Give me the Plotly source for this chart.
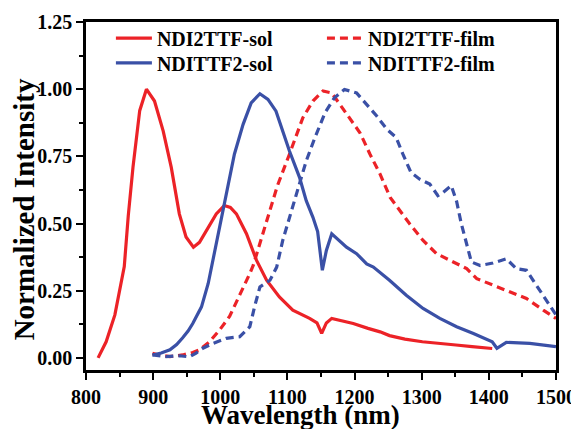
import plotly.graph_objects as go

# NDI2TTF-sol (red solid)
red_sol_x = [818, 830, 843, 857, 863, 870, 880, 890, 902, 915, 927, 939, 949, 960, 969, 979, 994, 1006, 1015, 1024, 1039, 1054, 1069, 1088, 1108, 1133, 1144, 1151, 1158, 1166, 1180, 1198, 1220, 1238, 1252, 1275, 1301, 1325, 1351, 1375, 1398, 1405]
red_sol_y = [0.0, 0.06, 0.16, 0.34, 0.53, 0.71, 0.92, 1.0, 0.956, 0.844, 0.709, 0.536, 0.45, 0.412, 0.43, 0.474, 0.536, 0.567, 0.56, 0.536, 0.462, 0.363, 0.289, 0.227, 0.178, 0.147, 0.13, 0.091, 0.13, 0.147, 0.14, 0.128, 0.11, 0.097, 0.083, 0.07, 0.06, 0.053, 0.048, 0.042, 0.036, 0.035]

# NDI2TTF-film (red dashed)
red_film_x = [899, 910, 925, 944, 959, 969, 984, 999, 1014, 1029, 1044, 1049, 1069, 1085, 1103, 1123, 1138, 1153, 1166, 1178, 1193, 1208, 1223, 1238, 1253, 1267, 1282, 1302, 1322, 1347, 1367, 1382, 1406, 1431, 1456, 1481, 1500]
red_film_y = [0.017, 0.01, 0.005, 0.011, 0.02, 0.03, 0.06, 0.104, 0.155, 0.233, 0.314, 0.344, 0.505, 0.64, 0.758, 0.894, 0.956, 0.993, 0.986, 0.943, 0.888, 0.838, 0.758, 0.684, 0.597, 0.548, 0.499, 0.437, 0.388, 0.357, 0.332, 0.295, 0.27, 0.246, 0.221, 0.178, 0.147]

# NDITTF2-sol (blue solid)
blue_sol_x = [899, 912, 925, 935, 944, 952, 959, 966, 972, 982, 989, 997, 1004, 1009, 1014, 1021, 1034, 1046, 1059, 1071, 1083, 1093, 1103, 1118, 1128, 1138, 1145, 1152, 1158, 1166, 1188, 1203, 1218, 1228, 1252, 1277, 1302, 1327, 1352, 1377, 1397, 1405, 1412, 1426, 1461, 1500]
blue_sol_y = [0.011, 0.018, 0.03, 0.05, 0.075, 0.1, 0.128, 0.16, 0.19, 0.277, 0.363, 0.462, 0.548, 0.6, 0.66, 0.758, 0.869, 0.949, 0.983, 0.962, 0.918, 0.844, 0.77, 0.672, 0.585, 0.523, 0.47, 0.326, 0.4, 0.462, 0.412, 0.388, 0.35, 0.338, 0.289, 0.233, 0.184, 0.147, 0.116, 0.091, 0.07, 0.06, 0.036, 0.058, 0.054, 0.042]

# NDITTF2-film (blue dashed)
blue_film_x = [899, 919, 939, 954, 964, 974, 989, 1009, 1029, 1044, 1051, 1059, 1074, 1084, 1093, 1103, 1118, 1128, 1141, 1156, 1170, 1185, 1203, 1218, 1233, 1248, 1262, 1272, 1284, 1297, 1312, 1324, 1332, 1344, 1352, 1359, 1367, 1374, 1387, 1406, 1426, 1441, 1456, 1469, 1484, 1500]
blue_film_y = [0.011, 0.005, 0.008, 0.004, 0.018, 0.036, 0.054, 0.073, 0.079, 0.116, 0.19, 0.264, 0.289, 0.338, 0.437, 0.52, 0.647, 0.733, 0.82, 0.912, 0.968, 0.999, 0.986, 0.945, 0.9, 0.851, 0.82, 0.758, 0.69, 0.665, 0.647, 0.604, 0.616, 0.641, 0.582, 0.499, 0.425, 0.357, 0.344, 0.353, 0.369, 0.332, 0.326, 0.277, 0.221, 0.16]

x_title = "Wavelength (nm)"
y_title = "Normalized Intensity"

RED = "#EC2227"
BLUE = "#3A50A6"
FONT = "Liberation Serif"

fig = go.Figure()
fig.add_trace(go.Scatter(x=red_sol_x, y=red_sol_y, mode="lines", name="NDI2TTF-sol",
                         line=dict(color=RED, width=3.2), legend="legend", showlegend=True))
fig.add_trace(go.Scatter(x=red_film_x, y=red_film_y, mode="lines", name="NDI2TTF-film",
                         line=dict(color=RED, width=3.2, dash="8px,5px"), legend="legend2", showlegend=True))
fig.add_trace(go.Scatter(x=blue_sol_x, y=blue_sol_y, mode="lines", name="NDITTF2-sol",
                         line=dict(color=BLUE, width=3.2), legend="legend3", showlegend=True))
fig.add_trace(go.Scatter(x=blue_film_x, y=blue_film_y, mode="lines", name="NDITTF2-film",
                         line=dict(color=BLUE, width=3.2, dash="8px,5px"), legend="legend4", showlegend=True))

axis_common = dict(
    showline=True, linewidth=2.5, linecolor="black", mirror=True,
    ticks="outside", ticklen=7, tickwidth=2, tickcolor="black",
    showgrid=False, zeroline=False, automargin=False,
    tickfont=dict(family=FONT, size=20, color="black", weight="bold"),
)

leg_font = dict(family=FONT, size=20, color="black", weight="bold")


def leg(x, y):
    return dict(x=x, y=y, xanchor="left", yanchor="middle", bgcolor="rgba(0,0,0,0)",
                font=leg_font, itemwidth=36)


# page body has an 8px default margin, so the figure is sized 8px smaller
fig.update_layout(
    width=571, height=421,
    margin=dict(l=78, r=23, t=13, b=59),
    showlegend=True,
    plot_bgcolor="white", paper_bgcolor="white",
    font=dict(family=FONT, color="black", weight="bold"),
    xaxis=dict(range=[800, 1500], dtick=100, tick0=800,
               minor=dict(dtick=50, ticks="outside", ticklen=4, tickwidth=2, tickcolor="black"),
               **axis_common),
    yaxis=dict(range=[-0.045, 1.25], dtick=0.25, tick0=0, tickformat=".2f",
               minor=dict(dtick=0.125, ticks="outside", ticklen=4, tickwidth=2, tickcolor="black"),
               **axis_common),
    legend=leg(0.053, 0.951),
    legend2=leg(0.502, 0.951),
    legend3=leg(0.053, 0.880),
    legend4=leg(0.502, 0.880),
    annotations=[
        dict(text=x_title, xref="paper", yref="paper", x=0.457, y=-0.13,
             xanchor="center", yanchor="middle", showarrow=False,
             font=dict(family=FONT, size=27, color="black", weight="bold")),
        dict(text=y_title, xref="paper", yref="paper", x=-0.133, y=0.463,
             xanchor="center", yanchor="middle", showarrow=False, textangle=-90,
             font=dict(family=FONT, size=29, color="black", weight="bold")),
    ],
)

fig.write_html("out.html")
